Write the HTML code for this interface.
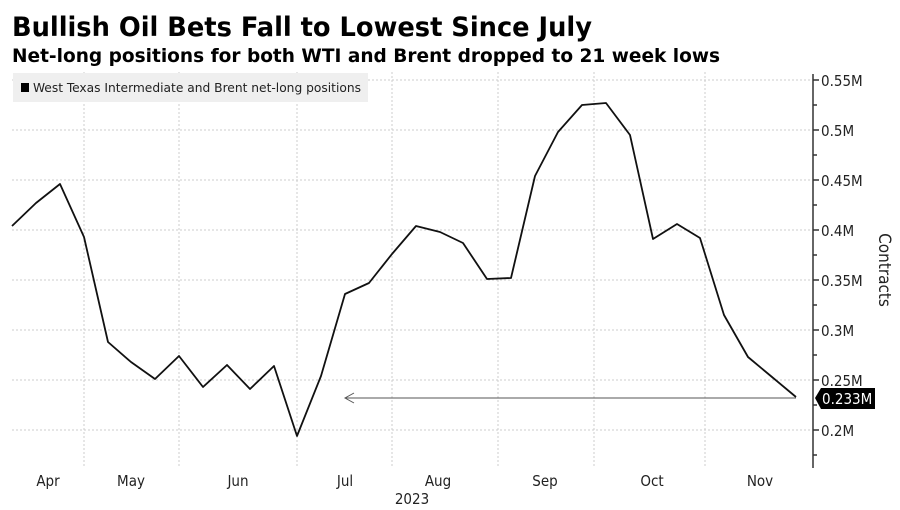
<!DOCTYPE html>
<html><head><meta charset="utf-8"><style>
html,body{margin:0;padding:0;background:#fff;}
svg{display:block;font-family:"DejaVu Sans Condensed","DejaVu Sans","Liberation Sans",sans-serif;}
</style></head><body>
<svg width="900" height="510" viewBox="0 0 900 510" xmlns="http://www.w3.org/2000/svg">
<text x="12" y="36" font-size="27" font-weight="bold" textLength="580" lengthAdjust="spacingAndGlyphs">Bullish Oil Bets Fall to Lowest Since July</text>
<text x="12" y="62" font-size="19" font-weight="bold" textLength="708" lengthAdjust="spacingAndGlyphs">Net-long positions for both WTI and Brent dropped to 21 week lows</text>
<g stroke="#ccc" stroke-dasharray="2,2" stroke-width="1">
<line x1="12" x2="812" y1="80" y2="80"/><line x1="12" x2="812" y1="130" y2="130"/>
<line x1="12" x2="812" y1="180" y2="180"/><line x1="12" x2="812" y1="230" y2="230"/>
<line x1="12" x2="812" y1="280" y2="280"/><line x1="12" x2="812" y1="330" y2="330"/>
<line x1="12" x2="812" y1="380" y2="380"/><line x1="12" x2="812" y1="430" y2="430"/>
<line x1="84" x2="84" y1="72" y2="468"/><line x1="179" x2="179" y1="72" y2="468"/>
<line x1="297" x2="297" y1="72" y2="468"/><line x1="392" x2="392" y1="72" y2="468"/>
<line x1="498" x2="498" y1="72" y2="468"/><line x1="594" x2="594" y1="72" y2="468"/>
<line x1="705" x2="705" y1="72" y2="468"/>
</g>
<rect x="13" y="73" width="355" height="29" fill="#efefef"/>
<rect x="21" y="83" width="8" height="9" fill="#000"/>
<text x="33" y="92" font-size="12.5" fill="#222" textLength="328" lengthAdjust="spacingAndGlyphs">West Texas Intermediate and Brent net-long positions</text>
<polyline fill="none" stroke="#111" stroke-width="1.8" stroke-linejoin="round" points="12,226 36,203 60,184 84,237 108,342 131,362 155,379 179,356 203,387 227,365 250,389 274,366 297,436 321,376 345,294 369,283 392,254 416,226 440,232 463,243 487,279 511,278 535,176 558,132 582,105 606,103 630,135 653,239 677,224 700,238 724,315 748,357 772,377 796,397"/>
<line x1="796" y1="398" x2="346" y2="398" stroke="#555" stroke-width="1"/>
<polyline points="354,393 345,398 354,403" fill="none" stroke="#555" stroke-width="1"/>
<line x1="813" y1="74" x2="813" y2="468" stroke="#333" stroke-width="1.5"/>
<g stroke="#333" stroke-width="1.5">
<line x1="813" x2="819" y1="80" y2="80"/><line x1="813" x2="819" y1="130" y2="130"/>
<line x1="813" x2="819" y1="180" y2="180"/><line x1="813" x2="819" y1="230" y2="230"/>
<line x1="813" x2="819" y1="280" y2="280"/><line x1="813" x2="819" y1="330" y2="330"/>
<line x1="813" x2="819" y1="380" y2="380"/><line x1="813" x2="819" y1="430" y2="430"/>
<line x1="813" x2="817" y1="105" y2="105"/><line x1="813" x2="817" y1="155" y2="155"/>
<line x1="813" x2="817" y1="205" y2="205"/><line x1="813" x2="817" y1="255" y2="255"/>
<line x1="813" x2="817" y1="305" y2="305"/><line x1="813" x2="817" y1="355" y2="355"/>
<line x1="813" x2="817" y1="405" y2="405"/><line x1="813" x2="817" y1="455" y2="455"/>
</g>
<g font-size="15" fill="#222">
<text x="821" y="86">0.55M</text><text x="821" y="136">0.5M</text>
<text x="821" y="186">0.45M</text><text x="821" y="236">0.4M</text>
<text x="821" y="286">0.35M</text><text x="821" y="336">0.3M</text>
<text x="821" y="386">0.25M</text><text x="821" y="436">0.2M</text>
</g>
<polygon points="815,398 821,388 875,388 875,409 821,409" fill="#000"/>
<text x="822" y="404" font-size="15" fill="#fff">0.233M</text>
<text transform="translate(879,270) rotate(90)" text-anchor="middle" font-size="17" fill="#222">Contracts</text>
<g font-size="15" fill="#222" text-anchor="middle">
<text x="48" y="486">Apr</text><text x="131" y="486">May</text><text x="238" y="486">Jun</text>
<text x="345" y="486">Jul</text><text x="438" y="486">Aug</text><text x="545" y="486">Sep</text>
<text x="652" y="486">Oct</text><text x="760" y="486">Nov</text>
<text x="412" y="504">2023</text>
</g>
</svg>
</body></html>
